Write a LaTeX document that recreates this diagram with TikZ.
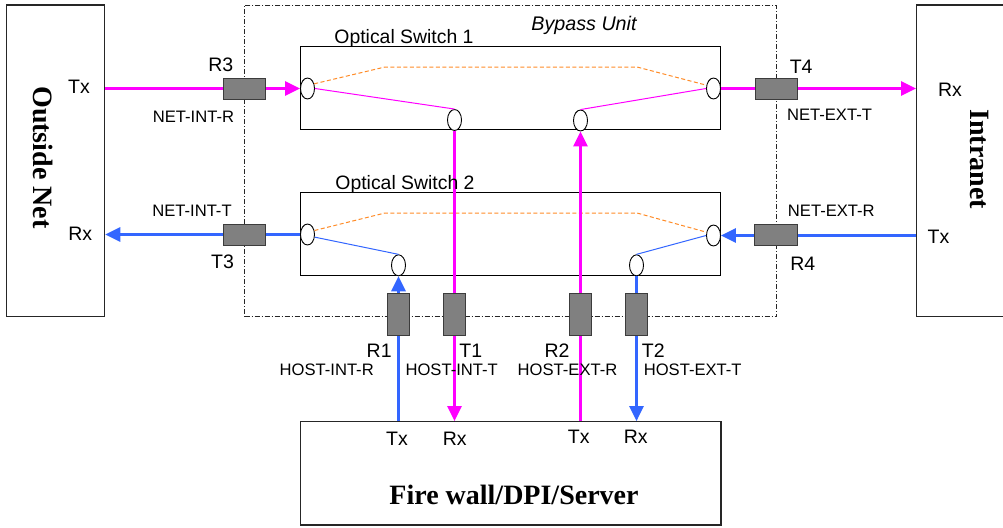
\documentclass[tikz,border=0pt]{standalone}
\usepackage{fontspec}
\setmainfont{Liberation Serif}
\setsansfont{Liberation Sans}
\usetikzlibrary{arrows.meta,shapes.geometric}
\definecolor{mag}{RGB}{255,0,255}
\definecolor{blu}{RGB}{51,102,255}
\definecolor{org}{RGB}{255,140,40}
\definecolor{plugfill}{RGB}{128,128,128}
\definecolor{plugdraw}{RGB}{60,60,60}
\begin{document}
\begin{tikzpicture}[x=1pt,y=-1pt,
  bigbox/.style={draw=black!85, line width=1.1pt, inner sep=0},
  swbox/.style={draw=black, line width=1pt, inner sep=0, minimum width=420pt, minimum height=82.6pt},
  port/.style={ellipse, draw=black, line width=0.9pt, fill=white, minimum width=14pt, minimum height=21pt, inner sep=0},
  hplug/.style={draw=plugdraw, line width=1pt, fill=plugfill, minimum width=42.4pt, minimum height=21pt, inner sep=0},
  vplug/.style={hplug, minimum width=21.4pt, minimum height=42.4pt},
  fiber/.style={line width=2.7pt, -{Triangle[length=15pt,width=14pt]}},
  thin/.style={line width=1pt},
  bypath/.style={draw=org, line width=1pt, dash pattern=on 4pt off 2.5pt},
  lbl/.style={font=\sffamily\fontsize{16.6}{18}\selectfont, inner sep=0, anchor=base},
  tag/.style={font=\sffamily\fontsize{19.5}{22}\selectfont, inner sep=0, anchor=base},
  title/.style={font=\sffamily\fontsize{19.4}{22}\selectfont, inner sep=0, anchor=base},
  big/.style={font=\bfseries\fontsize{28}{30}\selectfont, inner sep=0}
]
\useasboundingbox[fill=white] (0,0) rectangle (1003,527);

% outer boxes
\node[bigbox, minimum width=98.4pt, minimum height=311.7pt] (outside) at (55.5,160.85) {};
\node[bigbox, minimum width=93.3pt, minimum height=311.7pt] (intranet) at (963.35,160.85) {};
\node[draw=black!85, line width=0.9pt, dash pattern=on 5pt off 2pt on 1pt off 2pt, inner sep=0,
      minimum width=532pt, minimum height=311.7pt] (bypass) at (510.7,160.85) {};
\node[bigbox, minimum width=420.3pt, minimum height=103.3pt] (fw) at (510.85,473.35) {};

% switches
\node[swbox] (sw1) at (510.7,88) {};
\node[swbox] (sw2) at (510.7,234) {};

% ports
\node[port] (s1l) at (307.5,88.5) {};
\node[port] (s1b1) at (454.5,120) {};
\node[port] (s1b2) at (580.5,120.5) {};
\node[port] (s1r) at (713.5,88.5) {};
\node[port] (s2l) at (307.5,234.5) {};
\node[port] (s2b1) at (398.5,265.3) {};
\node[port] (s2b2) at (636.5,265.3) {};
\node[port] (s2r) at (713.5,235.5) {};

% internal paths
\draw[bypath] (s1l.35) -- (385,67) -- (637,67) -- (s1r.155);
\draw[mag, thin] (s1l.east) -- (s1b1.north);
\draw[mag, thin] (s1b2.north) -- (s1r.west);
\draw[bypath] (s2l.30) -- (385,213) -- (637,213) -- (s2r.155);
\draw[blu, thin] (s2l.-20) -- (s2b1.north);
\draw[blu, thin] (s2b2.north) -- (s2r.west);

% fibers
\draw[fiber, mag] (outside.east |- s1l.west) -- (s1l.west);
\draw[fiber, mag] (s1r.east) -- (intranet.west |- s1r.east);
\draw[fiber, blu] (s2l.west) -- (outside.east |- s2l.west);
\draw[fiber, blu] (intranet.west |- s2r.east) -- (s2r.east);
\draw[fiber, blu] (s2b1.south |- fw.north) -- (s2b1.south);
\draw[fiber, mag] (s1b1.south) -- (s1b1.south |- fw.north);
\draw[fiber, mag] (s1b2.south |- fw.north) -- (s1b2.south);
\draw[fiber, blu] (s2b2.south) -- (s2b2.south |- fw.north);

% plugs
\node[hplug] (r3) at (244.5,88.5) {};
\node[hplug] (t3) at (244.5,234.5) {};
\node[hplug] (t4) at (776.5,88.5) {};
\node[hplug] (r4) at (776,234.5) {};
\node[vplug] (r1) at (398.5,314.5) {};
\node[vplug] (t1) at (454.5,314.5) {};
\node[vplug] (r2) at (580.5,314.5) {};
\node[vplug] (t2) at (636.5,314.5) {};

% titles
\node[title] (sw1t) at (404,43.3) {Optical Switch 1};
\node[title] (sw2t) at (405,189.5) {Optical Switch 2};
\node[font=\sffamily\itshape\fontsize{19.7}{22}\selectfont, inner sep=0, anchor=base] (byt) at (584,31) {Bypass Unit};
\node[big, rotate=-90] (outt) at (43,157.4) {Outside Net};
\node[big, rotate=-90] (intt) at (980,159) {Intranet};
\node[big, anchor=base] (fwt) at (514,504.3) {Fire wall/DPI/Server};

% tags
\node[tag] at (79,93.5) {Tx};
\node[tag] at (80.3,240.5) {Rx};
\node[tag] at (950,96.7) {Rx};
\node[tag] at (938.5,243.3) {Tx};
\node[tag] at (220.8,71.7) {R3};
\node[tag] at (222.5,268.3) {T3};
\node[tag] at (801.2,73.3) {T4};
\node[tag] at (802.8,270) {R4};
\node[tag] at (379.2,357.3) {R1};
\node[tag] at (470.8,357.3) {T1};
\node[tag] at (557,357.3) {R2};
\node[tag] at (653.3,357.3) {T2};
\node[tag] at (397,445) {Tx};
\node[tag] at (454.7,445.5) {Rx};
\node[tag] at (578.7,443.5) {Tx};
\node[tag] at (635.8,443.5) {Rx};

% labels
\node[lbl] at (193.5,122.3) {NET-INT-R};
\node[lbl] at (192,216.7) {NET-INT-T};
\node[lbl] at (829.5,120.7) {NET-EXT-T};
\node[lbl] at (831.3,216.7) {NET-EXT-R};
\node[lbl] at (326.7,375.7) {HOST-INT-R};
\node[lbl] at (451.7,375.7) {HOST-INT-T};
\node[lbl] at (567.5,375.7) {HOST-EXT-R};
\node[lbl] at (692.7,375.7) {HOST-EXT-T};
\end{tikzpicture}
\end{document}
